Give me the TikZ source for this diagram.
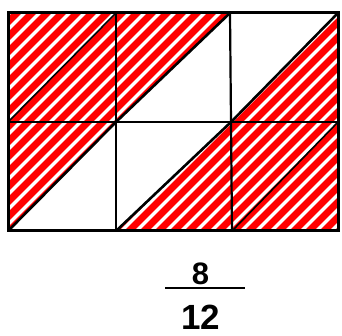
\documentclass[tikz,border=0pt]{standalone}
\usepackage{fontspec}
\setmainfont{Liberation Sans}
\begin{document}
\begin{tikzpicture}[x=1pt,y=-1pt,
  outer/.style={line width=3pt},
  inner/.style={line width=2.2pt},
  thindiag/.style={line width=1.6pt},
  thickdiag/.style={line width=2.6pt},
  stripe/.style={red,line width=7pt},
  numtext/.style={inner sep=0pt}]
\useasboundingbox (0,0) rectangle (342,336);
\coordinate (A0) at (8,13);   \coordinate (B0) at (116,13);  \coordinate (C0) at (230,13);  \coordinate (D0) at (338,13);
\coordinate (A1) at (8,122);  \coordinate (B1) at (116,122); \coordinate (C1) at (231,122); \coordinate (D1) at (338,122);
\coordinate (A2) at (8,231);  \coordinate (B2) at (116,231); \coordinate (C2) at (232,231); \coordinate (D2) at (338,231);
\begin{scope}
  \clip (A0) -- (B0) -- (B1) -- (A1) -- cycle
        (B0) -- (C0) -- (B1) -- cycle
        (D0) -- (D1) -- (C1) -- cycle
        (A1) -- (B1) -- (A2) -- cycle
        (C1) -- (C2) -- (B2) -- cycle
        (C1) -- (D1) -- (D2) -- (C2) -- cycle;
  \foreach \c in {0,15,...,735} {
    \draw[stripe] (\c,0) -- (\c-400,400);
  }
\end{scope}
\draw[inner] (B0) -- (B1) -- (B2);
\draw[inner] (C0) -- (C1) -- (C2);
\draw[inner] (A1) -- (B1) -- (C1) -- (D1);
\draw[thindiag] (A1) -- (B0);
\draw[thindiag] (C2) -- (D1);
\draw[thickdiag] (A2) -- (B1) -- (C0);
\draw[thickdiag] (B2) -- (C1) -- (D0);
\draw[outer] (A0) -- (D0) -- (D2) -- (A2) -- cycle;
\node[numtext, font=\fontsize{31}{31}\selectfont\bfseries] (num) at (200.5,273.5) {8};
\coordinate (fl) at (165,288);
\coordinate (fr) at (245,288);
\draw[line width=1.5pt] (fl) -- (fr);
\node[numtext, font=\fontsize{35}{35}\selectfont\bfseries] (den) at (201,317) {12};
\end{tikzpicture}
\end{document}
